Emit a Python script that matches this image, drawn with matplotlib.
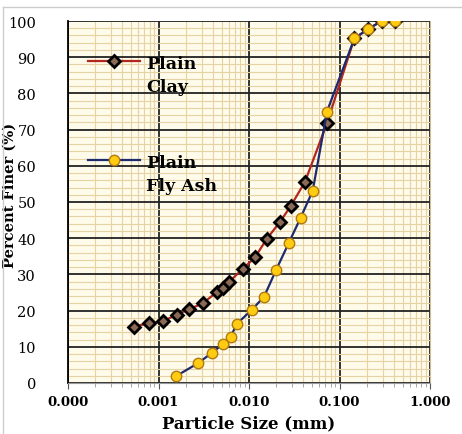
import numpy as np
import matplotlib.pyplot as plt
from matplotlib.ticker import FixedLocator, NullFormatter, MultipleLocator
from matplotlib.lines import Line2D

plt.rcParams['font.family'] = ['DejaVu Serif']

# particle size (mm) and percent finer (%)
clay_size = [0.00053, 0.00079, 0.00111, 0.00159, 0.00219, 0.00308, 0.0044, 0.00512,
             0.00606, 0.00851, 0.01165, 0.0157, 0.022, 0.0291, 0.0416, 0.0728,
             0.146, 0.208, 0.292, 0.414]
clay_finer = [15.6, 16.5, 17.0, 18.9, 20.4, 22.0, 25.1, 26.3,
              28.0, 31.5, 34.7, 39.8, 44.5, 49.0, 55.6, 71.8,
              95.2, 97.8, 100, 100]

ash_size = [0.00155, 0.00275, 0.00387, 0.0052, 0.00628, 0.00731, 0.0107, 0.01465,
            0.0199, 0.0274, 0.0371, 0.0506, 0.0728, 0.146, 0.208, 0.292, 0.414]
ash_finer = [1.85, 5.5, 8.3, 10.8, 12.8, 16.3, 20.2, 23.8,
             31.2, 38.6, 45.6, 53.1, 75.0, 95.2, 97.8, 100, 100]

x_ticks = [0.0001, 0.001, 0.01, 0.1, 1]
x_labels = ['0.000', '0.001', '0.010', '0.100', '1.000']

fig = plt.figure(figsize=(4.62, 4.35), dpi=100)
ax = fig.add_axes([68 / 462, 1 - 384 / 435, 362 / 462, 362 / 435])
ax.set_facecolor('#fffbea')

ax.plot(clay_size, clay_finer, color='#b3261e', lw=1.6, marker='D', ms=6.5,
        mfc='#8a6a55', mec='black', mew=2.0, zorder=3, label='Plain\nClay')
ax.plot(ash_size, ash_finer, color='#1c2a6e', lw=1.6, marker='o', ms=7.5,
        mfc='#ffcc11', mec='#b07a10', mew=1.0, zorder=4, label='Plain\nFly Ash')

ax.set_xscale('log')
ax.set_xlim(0.0001, 1)
ax.set_ylim(0, 100)

ax.xaxis.set_major_locator(FixedLocator(x_ticks))
ax.set_xticklabels(x_labels, fontweight='bold', fontsize=9.5)
minors = [m * 10.0 ** e for e in range(-4, 0) for m in range(2, 10)]
ax.xaxis.set_minor_locator(FixedLocator(minors))
ax.xaxis.set_minor_formatter(NullFormatter())
ax.yaxis.set_major_locator(MultipleLocator(10))
ax.yaxis.set_minor_locator(MultipleLocator(2))
ax.tick_params(axis='y', which='both', length=0, labelsize=10.5, pad=23)
ax.tick_params(axis='x', which='major', length=4, color='#555555', pad=5)
ax.tick_params(axis='x', which='minor', length=3, color='#999999')

ax.grid(which='minor', color='#e6d3a3', lw=0.8)
ax.grid(which='major', color='#222222', lw=1.3)
ax.set_axisbelow(True)

ax.spines['top'].set_visible(False)
ax.spines['right'].set_color('#cdbf9a')
ax.spines['bottom'].set_color('#999999')
ax.spines['left'].set_color('black')
ax.spines['left'].set_linewidth(1.3)

ax.set_xlabel('Particle Size (mm)', fontsize=12, fontweight='bold', labelpad=4)
ax.set_ylabel('Percent Finer (%)', fontsize=10.5, fontweight='bold')
ax.yaxis.set_label_coords(-0.142, 0.52)

leg = ax.legend(loc='upper left', bbox_to_anchor=(0.055, 0.905), frameon=False,
                prop={'weight': 'bold', 'size': 12.5}, handlelength=3.0,
                handletextpad=0.35, labelspacing=3.4, borderpad=0, borderaxespad=0)
for t in leg.get_texts():
    t.set_linespacing(1.45)
# keep the handle level with the first line of each two-line label
for col in leg._legend_handle_box.get_children():
    for row in col.get_children():
        row.align = 'top'

fig.add_artist(Line2D([3 / 462, 1], [1 - 8 / 435, 1 - 8 / 435], color='#cccccc', lw=1))
fig.add_artist(Line2D([3 / 462, 3 / 462], [0, 1 - 8 / 435], color='#cccccc', lw=1))

fig.savefig('out.png', dpi=100)
